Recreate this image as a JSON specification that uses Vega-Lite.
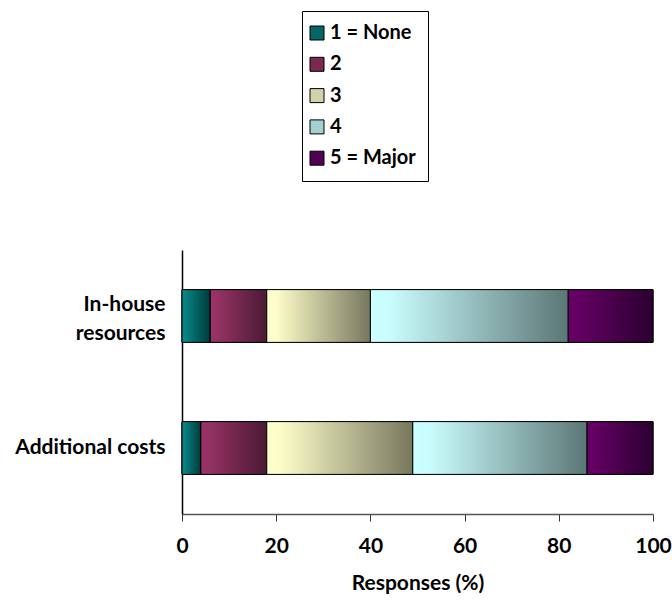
{
  "$schema": "https://vega.github.io/schema/vega-lite/v6.json",
  "width": 471,
  "height": 264,
  "autosize": {"type": "none"},
  "padding": {"left": 182, "top": 250, "right": 19, "bottom": 87},
  "background": "white",
  "config": {"view": {"stroke": null}, "font": "Lato"},
  "data": {
    "values": [
      {"item": "In-house resources", "rating": "1 = None", "pct": 6},
      {"item": "In-house resources", "rating": "2", "pct": 12},
      {"item": "In-house resources", "rating": "3", "pct": 22},
      {"item": "In-house resources", "rating": "4", "pct": 42},
      {"item": "In-house resources", "rating": "5 = Major", "pct": 18},
      {"item": "Additional costs", "rating": "1 = None", "pct": 4},
      {"item": "Additional costs", "rating": "2", "pct": 14},
      {"item": "Additional costs", "rating": "3", "pct": 31},
      {"item": "Additional costs", "rating": "4", "pct": 37},
      {"item": "Additional costs", "rating": "5 = Major", "pct": 14}
    ]
  },
  "encoding": {
    "y": {
      "field": "item",
      "type": "nominal",
      "sort": ["In-house resources", "Additional costs"],
      "scale": {"paddingInner": 0.6, "paddingOuter": 0.3},
      "axis": {
        "title": null,
        "labelFont": "Lato",
        "labelFontSize": 21,
        "labelFontWeight": "bold",
        "labelColor": "black",
        "ticks": false,
        "domainColor": "black",
        "domainWidth": 1.5,
        "labelPadding": 17,
        "labelLineHeight": 29,
        "labelOffset": {"condition": {"test": "datum.value == 'In-house resources'", "value": -11}, "value": 0},
        "labelExpr": "datum.value == 'In-house resources' ? ['In-house', 'resources'] : datum.label"
      }
    },
    "x": {
      "field": "pct",
      "type": "quantitative",
      "stack": "zero",
      "scale": {"domain": [0, 100]},
      "axis": {
        "values": [0, 20, 40, 60, 80, 100],
        "grid": false,
        "title": "Responses (%)",
        "titleFont": "Lato",
        "titleFontSize": 21,
        "titleFontWeight": "bold",
        "titleColor": "black",
        "titlePadding": 16,
        "labelFont": "Lato",
        "labelFontSize": 21,
        "labelFontWeight": "bold",
        "labelColor": "black",
        "labelPadding": 14,
        "labelFlush": false,
        "tickSize": 7,
        "tickColor": "#333333",
        "domainColor": "#555555",
        "domainWidth": 1.5
      }
    },
    "detail": {"field": "rating", "type": "nominal"}
  },
  "layer": [
    {
      "mark": {"type": "bar", "stroke": "black", "strokeWidth": 1},
      "encoding": {
        "color": {
          "field": "rating",
          "type": "nominal",
          "scale": {
            "domain": ["1 = None", "2", "3", "4", "5 = Major"],
            "range": ["#066666", "#7a2a52", "#d2d2aa", "#a4d0d0", "#520052"]
          },
          "legend": {
            "orient": "none",
            "legendX": 120,
            "legendY": -239,
            "title": null,
            "strokeColor": "black",
            "padding": 12,
            "labelFont": "Lato",
            "labelFontSize": 20,
            "labelFontWeight": "bold",
            "labelColor": "black",
            "labelOffset": 3,
            "symbolOffset": -7,
            "symbolType": "square",
            "symbolSize": 196,
            "symbolStrokeColor": "black",
            "symbolStrokeWidth": 1,
            "symbolOpacity": 1,
            "rowPadding": 11.3
          }
        }
      }
    },
    {
      "mark": {"type": "bar", "stroke": "black", "strokeWidth": 1},
      "encoding": {
        "fill": {
          "condition": [
            {"test": "datum.rating === '1 = None'", "value": {"gradient": "linear", "x1": 0, "y1": 0, "x2": 1, "y2": 0, "stops": [{"offset": 0, "color": "#0b8787"}, {"offset": 0.15, "color": "#078080"}, {"offset": 1, "color": "#003a3a"}]}},
            {"test": "datum.rating === '2'", "value": {"gradient": "linear", "x1": 0, "y1": 0, "x2": 1, "y2": 0, "stops": [{"offset": 0, "color": "#993366"}, {"offset": 0.1, "color": "#963364"}, {"offset": 1, "color": "#4a1a33"}]}},
            {"test": "datum.rating === '3'", "value": {"gradient": "linear", "x1": 0, "y1": 0, "x2": 1, "y2": 0, "stops": [{"offset": 0, "color": "#ffffcc"}, {"offset": 0.1, "color": "#fcfcc9"}, {"offset": 1, "color": "#77775e"}]}},
            {"test": "datum.rating === '4'", "value": {"gradient": "linear", "x1": 0, "y1": 0, "x2": 1, "y2": 0, "stops": [{"offset": 0, "color": "#ccffff"}, {"offset": 0.1, "color": "#c9fcfc"}, {"offset": 1, "color": "#5c7676"}]}}
          ],
          "value": {"gradient": "linear", "x1": 0, "y1": 0, "x2": 1, "y2": 0, "stops": [{"offset": 0, "color": "#660066"}, {"offset": 0.1, "color": "#640064"}, {"offset": 1, "color": "#2b0030"}]}
        }
      }
    }
  ]
}
